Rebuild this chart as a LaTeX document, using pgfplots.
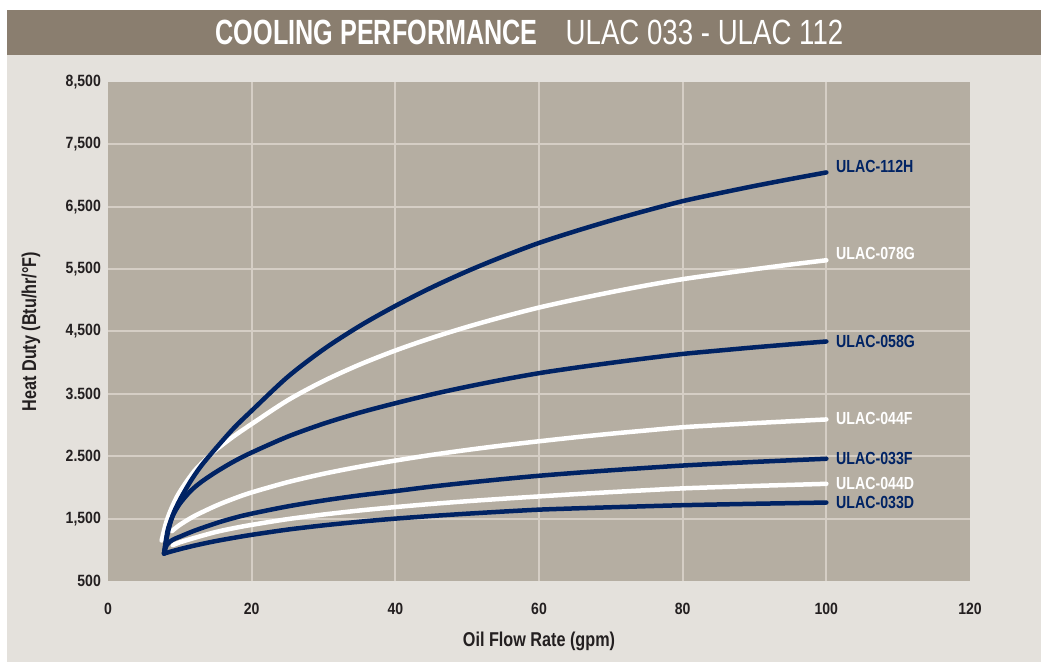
\documentclass[border=0pt]{standalone}
\usepackage{pgfplots}
\pgfplotsset{compat=1.18}
\usepackage{fontspec}
\setmainfont{Liberation Sans}
\newfontfamily\titleb[FakeStretch=0.72]{Liberation Sans}
\newfontfamily\condr[FakeStretch=0.79]{Liberation Sans}
\newfontfamily\tickf[FakeStretch=0.86]{Liberation Sans}
\newfontfamily\labf[FakeStretch=0.81]{Liberation Sans}
\definecolor{navy}{RGB}{0,35,100}
\definecolor{plotbg}{RGB}{181,174,162}
\definecolor{gridc}{RGB}{213,206,197}
\definecolor{outerbg}{RGB}{228,225,220}
\definecolor{titlebg}{RGB}{138,126,111}
\definecolor{tickc}{RGB}{35,31,32}
\begin{document}
\begin{tikzpicture}
\path[use as bounding box] (0,0) rectangle (1041bp,662bp);
\fill[white] (0,0) rectangle (1041bp,662bp);
\fill[outerbg] (7bp,0) rectangle (1041bp,607bp);
\fill[titlebg] (7bp,607bp) rectangle (1041bp,652bp);
\node[text=white, inner sep=0pt, anchor=center] at (529.5bp,629.5bp)
  {\fontsize{35bp}{40bp}\selectfont\titleb\bfseries COOLING PERFORMANCE\hspace{28bp}\condr\mdseries ULAC 033 - ULAC 112};
\begin{axis}[
  at={(108bp,81bp)}, anchor=south west,
  scale only axis, width=862bp, height=499bp,
  xmin=0, xmax=120, ymin=500, ymax=8500,
  axis background/.style={fill=plotbg},
  axis line style={draw=none},
  major tick length=0pt,
  xtick={20,40,60,80,100}, xticklabels={20,40,60,80,100},
  extra x ticks={0,120}, extra x tick labels={0,120},
  ytick={1500,2500,3500,4500,5500,6500,7500},
  yticklabels={{1,500},2.500,3.500,{4,500},{5,500},{6,500},{7,500}},
  extra y ticks={500,8500}, extra y tick labels={500,{8,500}},
  extra tick style={grid=none, major tick length=0pt},
  grid=major, grid style={draw=gridc, line width=2bp},
  ticklabel style={font=\tickf\bfseries\fontsize{16.3bp}{18bp}\selectfont, text=tickc},
  xticklabel style={anchor=center, inner sep=0pt, yshift=-28bp},
  yticklabel style={anchor=east, inner sep=0pt, xshift=-7bp},
  xlabel={Oil Flow Rate (gpm)}, ylabel={Heat Duty (Btu/hr/°F)},
  label style={font=\labf\bfseries\fontsize{20bp}{22bp}\selectfont, text=tickc, inner sep=0pt},
  xlabel style={at={(axis description cs:0.5,-0.1202)}, anchor=center},
  ylabel style={at={(axis description cs:-0.0893,0.5)}, anchor=center},
  clip=false,
  every axis plot/.append style={line width=4.5bp, line cap=round, line join=round, smooth, no markers}
]
% white series
\addplot[white] coordinates {(7.47,1150) (8,1400) (8.6,1600) (9.5,1830) (10.5,2020) (12,2260) (13.5,2440) (15,2600) (17.5,2820) (20,3017) (25,3396) (30,3706) (35,3968) (40,4195) (45,4395) (50,4574) (55,4736) (60,4884) (65,5012) (70,5130) (75,5240) (80,5339) (85,5421) (90,5499) (95,5573) (100,5642)};
\addplot[white] coordinates {(8.9,1300) (10,1400) (12,1540) (15,1705) (17.5,1820) (20,1920) (25,2084) (30,2219) (35,2332) (40,2431) (45,2521) (50,2601) (55,2674) (60,2740) (65,2803) (70,2861) (75,2914) (80,2965) (85,2999) (90,3031) (95,3061) (100,3090)};
\addplot[white] coordinates {(9,1075) (10,1120) (12,1190) (15,1285) (17.5,1347) (20,1400) (25,1492) (30,1566) (35,1630) (40,1685) (45,1735) (50,1779) (55,1819) (60,1856) (65,1892) (70,1925) (75,1956) (80,1985) (85,2005) (90,2024) (95,2041) (100,2058)};
% navy series
\addplot[navy] coordinates {(7.8,940) (8.3,1260) (9,1550) (10,1800) (11.5,2100) (13,2350) (15,2625) (17.5,2950) (20,3230) (25,3771) (30,4213) (35,4586) (40,4910) (45,5203) (50,5466) (55,5703) (60,5920) (65,6106) (70,6279) (75,6440) (80,6590) (85,6715) (90,6833) (95,6944) (100,7050)};
\addplot[navy] coordinates {(7.8,940) (8.3,1309) (9,1540) (10,1740) (11.5,1943) (13,2089) (15,2245) (17.5,2415) (20,2560) (25,2814) (30,3022) (35,3198) (40,3350) (45,3490) (50,3615) (55,3729) (60,3832) (65,3918) (70,3997) (75,4071) (80,4140) (85,4194) (90,4246) (95,4294) (100,4340)};
\addplot[navy] coordinates {(7.8,940) (8.2,1080) (9,1160) (10,1210) (12,1305) (15,1425) (17.5,1510) (20,1580) (25,1696) (30,1791) (35,1872) (40,1941) (45,2013) (50,2076) (55,2134) (60,2187) (65,2233) (70,2275) (75,2314) (80,2351) (85,2381) (90,2409) (95,2435) (100,2460)};
\addplot[navy] coordinates {(7.8,940) (9,980) (10.5,1025) (12.5,1080) (15,1140) (17.5,1192) (20,1240) (25,1324) (30,1392) (35,1450) (40,1500) (45,1542) (50,1579) (55,1613) (60,1644) (65,1664) (70,1682) (75,1699) (80,1715) (85,1727) (90,1738) (95,1748) (100,1758)};
% labels
\begin{scope}[every node/.style={anchor=west, inner sep=0pt, font=\labf\bfseries\fontsize{17.5bp}{19bp}\selectfont}]
\node[text=navy] at (axis cs:101.35,7150) {ULAC-112H};
\node[text=white] at (axis cs:101.35,5750) {ULAC-078G};
\node[text=navy] at (axis cs:101.35,4340) {ULAC-058G};
\node[text=white] at (axis cs:101.35,3100) {ULAC-044F};
\node[text=navy] at (axis cs:101.35,2460) {ULAC-033F};
\node[text=white] at (axis cs:101.35,2060) {ULAC-044D};
\node[text=navy] at (axis cs:101.35,1760) {ULAC-033D};
\end{scope}
\end{axis}
\end{tikzpicture}
\end{document}
